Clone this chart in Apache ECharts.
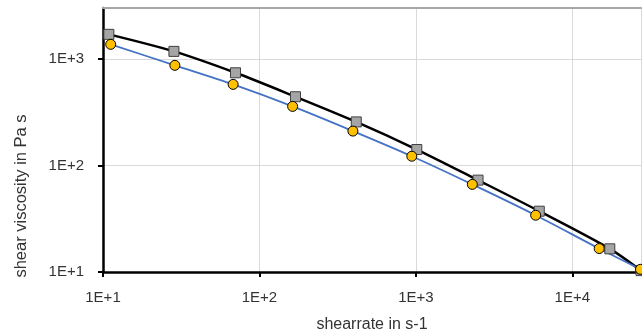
<!DOCTYPE html>
<html><head><meta charset="utf-8">
<script src="https://cdn.jsdelivr.net/npm/echarts@6/dist/echarts.min.js"></script>
<style>html,body{margin:0;padding:0;background:#fff}#c{width:642px;height:333px}</style>
</head><body><div id="c"></div>
<script>
// Series A (grey squares, black line)
const shearA = [10.9, 28.4, 70.3, 170, 416, 1014, 2498, 6152, 17380, 27500];
const viscA  = [1698, 1175, 740, 441, 256, 141, 72.8, 37.2, 16.5, 10.3];
// Series B (yellow circles, blue line)
const shearB = [11.2, 28.8, 67.9, 163, 396, 942, 2296, 5834, 14860, 27300];
const viscB  = [1368, 869, 576, 358, 210, 122, 66.4, 34.1, 16.6, 10.6];
const xTickLabels = ['1E+1', '1E+2', '1E+3', '1E+4'];
const yTickLabels = ['1E+1', '1E+2', '1E+3'];

const zip = (xs, ys) => xs.map((x, i) => [x, ys[i]]);
const fmt = (labels) => (v) => {
  const e = Math.round(Math.log10(v));
  return labels.find(l => l === '1E+' + e) || '';
};
const font = 'Liberation Sans';
const txt = '#333';
const chart = echarts.init(document.getElementById('c'));
chart.setOption({
  animation: false,
  grid: { left: 103, right: 1, top: 8, bottom: 61, containLabel: false, outerBoundsMode: 'none' },
  xAxis: [{
    type: 'log', logBase: 10, min: 10, max: 27500,
    name: 'shearrate in s-1', nameLocation: 'middle', nameGap: 45,
    nameTextStyle: { fontFamily: font, fontSize: 16, color: txt },
    axisLine: { lineStyle: { color: '#000', width: 2.5 } },
    axisTick: { show: true, length: 5, lineStyle: { color: '#000', width: 2 } },
    axisLabel: { formatter: fmt(xTickLabels), fontFamily: font, fontSize: 15, color: txt, margin: 18, showMaxLabel: false },
    splitLine: { show: true, lineStyle: { color: '#d9d9d9', width: 1 } },
    minorTick: { show: false }
  }, {
    type: 'log', logBase: 10, min: 10, max: 27500, position: 'top',
    axisLine: { show: true, lineStyle: { color: '#a6a6a6', width: 2 } },
    axisTick: { show: false }, axisLabel: { show: false }, splitLine: { show: false }
  }],
  yAxis: {
    type: 'log', logBase: 10, min: 10, max: 3000,
    name: 'shear viscosity in Pa s', nameLocation: 'middle', nameGap: 73,
    nameTextStyle: { fontFamily: font, fontSize: 16.5, color: txt, padding: [0, 112, 0, 0] },
    axisLine: { show: true, lineStyle: { color: '#000', width: 2.5 } },
    axisTick: { show: true, length: 5, lineStyle: { color: '#000', width: 2 } },
    axisLabel: { formatter: fmt(yTickLabels), fontFamily: font, fontSize: 15, color: txt, margin: 19, showMaxLabel: false },
    splitLine: { show: true, lineStyle: { color: '#d9d9d9', width: 1 } }
  },
  series: [{
    type: 'line', data: zip(shearA, viscA), smooth: 0.3,
    symbol: 'rect', symbolSize: 10,
    lineStyle: { color: '#000', width: 2.5 },
    itemStyle: { color: '#a5a5a5', borderColor: '#404040', borderWidth: 1 },
    clip: true
  }, {
    type: 'line', data: zip(shearB, viscB), smooth: 0.3,
    symbol: 'circle', symbolSize: 10,
    lineStyle: { color: '#4472c4', width: 1.8 },
    itemStyle: { color: '#ffc000', borderColor: '#000', borderWidth: 1 },
    clip: false
  }]
});
</script></body></html>
